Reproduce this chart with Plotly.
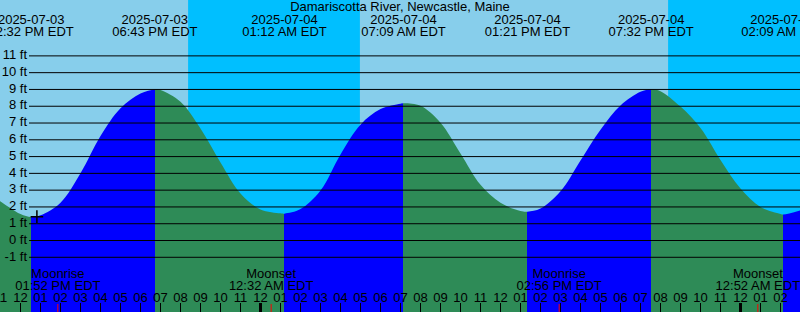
import plotly.graph_objects as go

# ---------------- data (hours counted from 00:00 EDT, 2025-07-03) ----------------
title_text = "Damariscotta River, Newcastle, Maine"

tide_hours = [10.9, 11, 12, 13, 14, 15, 16, 17, 18, 19, 20, 21, 22, 23, 24, 25, 26, 27, 28, 29,
              30, 31, 32, 33, 34, 35, 36, 37, 38, 39, 40, 41, 42, 43, 44, 45, 46, 47, 48,
              49, 50, 51]
tide_levels = [2.40, 2.33, 1.58, 1.50, 2.25, 4.00, 6.22, 7.88, 8.76, 8.97, 8.27, 6.68, 4.65, 2.80,
               1.85, 1.62, 1.87, 2.98, 5.13, 6.90, 7.83, 8.15, 8.03, 7.02, 5.19, 3.32, 2.25,
               1.76, 1.90, 2.93, 4.77, 6.60, 8.05, 8.87, 8.90, 7.98, 6.70, 4.80, 3.10, 2.00,
               1.58, 1.80]

extreme_hours = [12.533, 18.717, 25.2, 31.15, 37.35, 43.533, 50.15]
extreme_levels = [1.40, 9.00, 1.60, 8.18, 1.72, 9.00, 1.55]
extreme_kind = ["low", "high", "low", "high", "low", "high", "low"]
extreme_dates = ["2025-07-03", "2025-07-03", "2025-07-04", "2025-07-04",
                 "2025-07-04", "2025-07-04", "2025-07-05"]
extreme_times = ["12:32 PM EDT", "06:43 PM EDT", "01:12 AM EDT", "07:09 AM EDT",
                 "01:21 PM EDT", "07:32 PM EDT", "02:09 AM EDT"]

moon_hours = [13.867, 24.533, 38.933, 48.867]
moon_events = ["Moonrise", "Moonset", "Moonrise", "Moonset"]
moon_times = ["01:52 PM EDT", "12:32 AM EDT", "02:56 PM EDT", "12:52 AM EDT"]

sunset_hours = [20.38, 44.38]
sunrise_hours = [28.97, 53.0]

midnight_hours = [24, 48]
hour_ticks = list(range(11, 51))
hour_labels = ["11", "12", "01", "02", "03", "04", "05", "06", "07", "08", "09", "10",
               "11", "12", "01", "02", "03", "04", "05", "06", "07", "08", "09", "10",
               "11", "12", "01", "02", "03", "04", "05", "06", "07", "08", "09", "10",
               "11", "12", "01", "02"]
level_ticks = [-1, 0, 1, 2, 3, 4, 5, 6, 7, 8, 9, 10, 11]
level_labels = ["-1 ft", "0 ft", "1 ft", "2 ft", "3 ft", "4 ft", "5 ft", "6 ft", "7 ft",
                "8 ft", "9 ft", "10 ft", "11 ft"]

now_hour = 12.82
now_level = 1.42

x_range = [10.975, 50.975]
y_range = [-4.26, 14.33]

# ---------------- styles ----------------
DAY = "#87CEEB"
NIGHT = "#00BFFF"
FLOOD = "#0000FF"
EBB = "#2E8B57"
FONT = "Liberation Sans, Arial, Helvetica, sans-serif"
W, H = 800, 312


def y_at_px(p):
    """data level shown at pixel row p (y range is fixed)."""
    return y_range[1] - p * (y_range[1] - y_range[0]) / H


def x_at_px(p):
    """data time shown at pixel column p (x range is fixed)."""
    return x_range[0] + p * (x_range[1] - x_range[0]) / W


# merged curve
pts = sorted(zip(tide_hours + extreme_hours, tide_levels + extreme_levels))
cx = [p[0] for p in pts]
cy = [p[1] for p in pts]
start, stop = cx[0], cx[-1]


def frac(h):
    return (h - start) / (stop - start)


color = EBB if extreme_kind[0] == "low" else FLOOD
cs = [[0.0, color]]
for h, k in zip(extreme_hours, extreme_kind):
    f = frac(h)
    cs.append([f, color])
    color = FLOOD if k == "low" else EBB
    cs.append([f, color])
cs.append([1.0, color])

fig = go.Figure()
fig.add_trace(go.Scatter(x=[start, stop], y=[-10, -10], mode="lines",
                         line=dict(width=0), hoverinfo="skip", showlegend=False))
fig.add_trace(go.Scatter(x=cx, y=cy, mode="lines", line=dict(width=0, shape="spline"),
                         fill="tonexty",
                         fillgradient=dict(type="horizontal", colorscale=cs,
                                           start=start, stop=stop),
                         hoverinfo="skip", showlegend=False))
fig.add_trace(go.Scatter(x=[now_hour], y=[now_level], mode="markers",
                         marker=dict(symbol="cross-thin", size=9,
                                     line=dict(width=1.5, color="black")),
                         hoverinfo="skip", showlegend=False))

txt = dict(mode="text", textposition="middle center", hoverinfo="skip", showlegend=False,
           textfont=dict(family=FONT, size=13, color="black"))
# title
fig.add_trace(go.Scatter(x=[(x_range[0] + x_range[1]) / 2], y=[y_at_px(8)],
                         text=[title_text], **txt))
# tide extreme labels
fig.add_trace(go.Scatter(x=extreme_hours, y=[y_at_px(20.5)] * len(extreme_hours),
                         text=extreme_dates, **txt))
fig.add_trace(go.Scatter(x=extreme_hours, y=[y_at_px(32.5)] * len(extreme_hours),
                         text=extreme_times, **txt))
# moon labels
fig.add_trace(go.Scatter(x=moon_hours, y=[y_at_px(274.5)] * len(moon_hours),
                         text=moon_events, **txt))
fig.add_trace(go.Scatter(x=moon_hours, y=[y_at_px(286.5)] * len(moon_hours),
                         text=moon_times, **txt))
# level labels (right-aligned just left of the level lines)
fig.add_trace(go.Scatter(x=[x_at_px(27)] * len(level_ticks), y=level_ticks,
                         text=level_labels, mode="text", textposition="middle left",
                         hoverinfo="skip", showlegend=False, cliponaxis=False,
                         textfont=dict(family=FONT, size=13, color="black")))

shapes = []
for s, r in zip(sunset_hours, sunrise_hours):
    shapes.append(dict(type="rect", xref="x", yref="paper", x0=s, x1=r, y0=0, y1=1,
                       fillcolor=NIGHT, line=dict(width=0), layer="below"))
for v in level_ticks:
    shapes.append(dict(type="line", xref="paper", yref="y", x0=29 / W, x1=1, y0=v, y1=v,
                       line=dict(color="black", width=1), layer="above"))
for m in midnight_hours:
    shapes.append(dict(type="line", xref="x", yref="paper", x0=m, x1=m, y0=0, y1=9 / H,
                       line=dict(color="black", width=3), layer="above"))
for m in moon_hours:
    shapes.append(dict(type="line", xref="x", yref="paper", x0=m, x1=m, y0=0, y1=8 / H,
                       line=dict(color="red", width=1), layer="above"))

fig.update_layout(
    width=W, height=H, margin=dict(l=0, r=0, t=0, b=0, pad=0, autoexpand=False),
    paper_bgcolor=DAY, plot_bgcolor=DAY, showlegend=False,
    font=dict(family=FONT, size=13, color="black"),
    xaxis=dict(range=x_range, showgrid=False, zeroline=False, showline=False,
               automargin=False,
               tickmode="array", tickvals=hour_ticks, ticktext=hour_labels,
               ticks="inside", ticklen=9, tickwidth=1, tickcolor="black",
               ticklabelposition="inside", ticklabeloverflow="allow", ticklabelstandoff=-2,
               tickfont=dict(size=13, color="black"), fixedrange=True),
    yaxis=dict(range=y_range, visible=False, fixedrange=True, automargin=False),
    shapes=shapes,
)

fig.write_html("out.html")
